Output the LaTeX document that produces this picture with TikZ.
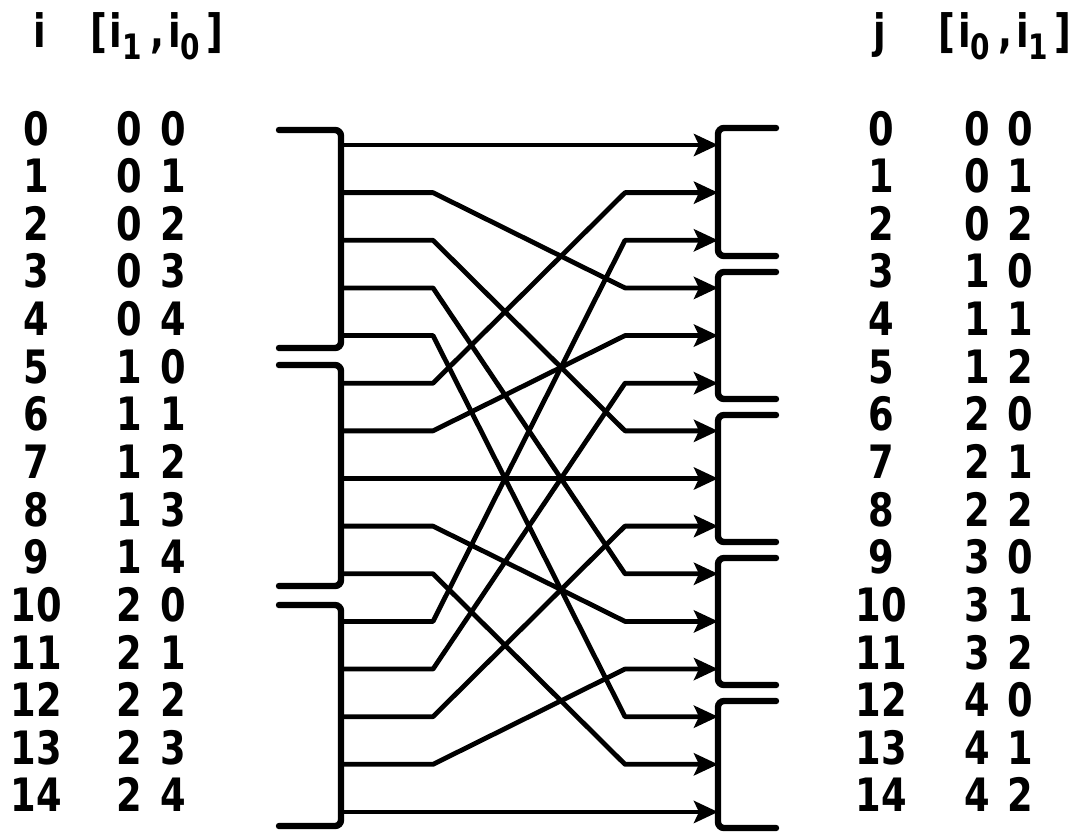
\documentclass[tikz,border=0pt]{standalone}
\usepackage{fontspec}
\usetikzlibrary{arrows.meta,calc}
\setmainfont{DejaVu Sans}
\newfontfamily\labfont{DejaVu Sans Bold}[FakeStretch=0.8]
\newcommand\subd[1]{\raisebox{-12pt}{\fontsize{35}{35}\selectfont #1}}
\begin{document}
\begin{tikzpicture}[x=1pt,y=-1pt,
  lab/.style={font=\labfont\fontsize{46}{46}\selectfont, inner sep=0pt, anchor=base},
  wire/.style={line width=4.8pt, line join=round},
  arr/.style={wire, -{Stealth[length=24pt,width=22pt,inset=5pt]}},
  brk/.style={line width=6.4pt, line cap=round, rounded corners=6pt}]
\useasboundingbox (0,0) rectangle (1073,831);
% headers
\node[lab] (hi) at (40,47) {i};
\node[lab, anchor=base west] (hil) at (90,47) {[\hspace{3pt}i\subd{1}\hspace{8pt},\hspace{4pt}i\subd{0}\hspace{6pt}]};
\node[lab] (hj) at (880,47) {j};
\node[lab, anchor=base west] (hjl) at (938,47) {[\hspace{3pt}i\subd{0}\hspace{8pt},\hspace{4pt}i\subd{1}\hspace{6pt}]};
% rows
\foreach \i in {0,...,14}{
  \pgfmathsetmacro\y{145+\i*47.64}
  \pgfmathtruncatemacro\a{int(\i/5)}
  \pgfmathtruncatemacro\b{mod(\i,5)}
  \pgfmathtruncatemacro\c{int(\i/3)}
  \pgfmathtruncatemacro\d{mod(\i,3)}
  \coordinate (L\i) at (341,\y);
  \coordinate (R\i) at (718,\y);
  \node[lab] (li\i) at (36,\y) {\i};
  \node[lab] (la\i) at (129,\y) {\a};
  \node[lab] (lb\i) at (173,\y) {\b};
  \node[lab] (rj\i) at (881,\y) {\i};
  \node[lab] (rc\i) at (977,\y) {\c};
  \node[lab] (rd\i) at (1020,\y) {\d};
}
% connectors
\foreach \i in {0,...,14}{
  \pgfmathtruncatemacro\j{3*mod(\i,5)+int(\i/5)}
  \draw[arr] (L\i) -- ++(92,0) -- ($(R\j)+(-93,0)$) -- (R\j);
}
% left brackets
\draw[brk] (279,130) -- (341,130) -- (341,348) -- (279,348);
\draw[brk] (279,365) -- (341,365) -- (341,586) -- (279,586);
\draw[brk] (279,605) -- (341,605) -- (341,826) -- (279,826);
% right brackets
\draw[brk] (776,128) -- (718,128) -- (718,256) -- (776,256);
\draw[brk] (776,272) -- (718,272) -- (718,399) -- (776,399);
\draw[brk] (776,415) -- (718,415) -- (718,542) -- (776,542);
\draw[brk] (776,558) -- (718,558) -- (718,685) -- (776,685);
\draw[brk] (776,701) -- (718,701) -- (718,828) -- (776,828);
\end{tikzpicture}
\end{document}
